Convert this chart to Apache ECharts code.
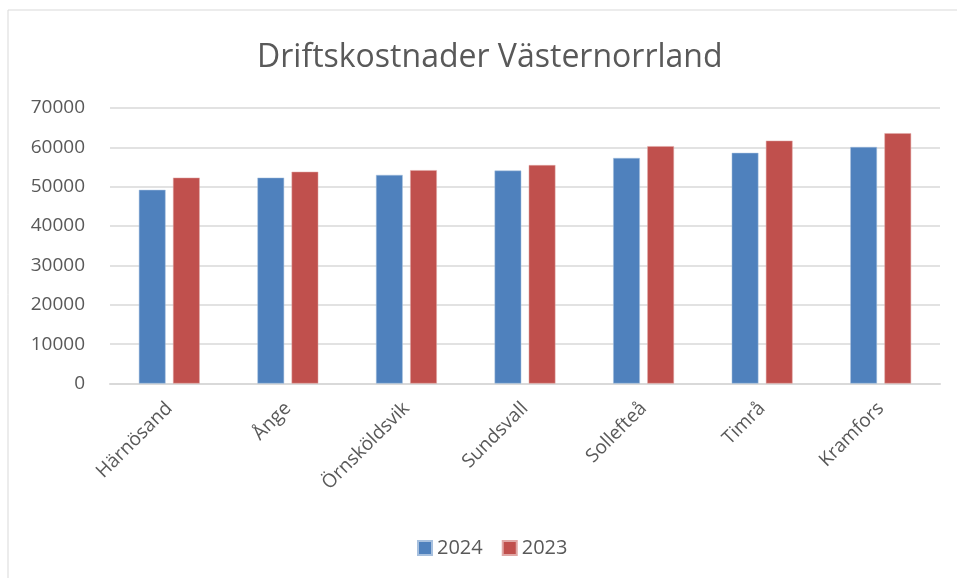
<!DOCTYPE html>
<html>
<head>
<meta charset="utf-8">
<script src="https://cdn.jsdelivr.net/npm/echarts@6/dist/echarts.min.js"></script>
<style>
  html, body { margin: 0; padding: 0; background: #fff; }
  #chart { width: 957px; height: 578px; }
</style>
</head>
<body>
<div id="chart"></div>
<script>
// data
const kommuner = ['Härnösand', 'Ånge', 'Örnsköldsvik', 'Sundsvall', 'Sollefteå', 'Timrå', 'Kramfors']
const kostnad2024 = [49200, 52300, 53000, 54100, 57300, 58600, 60100]
const kostnad2023 = [52300, 53800, 54200, 55500, 60300, 61700, 63600]

const textColor = '#595959'
const fontFam = '"Open Sans", "Noto Sans", sans-serif'

const chart = echarts.init(document.getElementById('chart'))

chart.setOption({
  animation: false,
  backgroundColor: '#fff',
  graphic: [{
    type: 'rect',
    shape: { x: 8, y: 10, width: 960, height: 600 },
    style: { fill: 'none', stroke: '#d9d9d9', lineWidth: 1 },
    silent: true
  }],
  title: {
    text: 'Driftskostnader Västernorrland',
    left: 252,
    top: 37,
    textStyle: { fontFamily: fontFam, fontSize: 32, fontWeight: 'normal', color: textColor }
  },
  legend: {
    bottom: 15,
    left: 412,
    itemWidth: 14,
    itemHeight: 14,
    itemGap: 19,
    icon: 'rect',
    textStyle: { fontFamily: fontFam, fontSize: 20, color: textColor }
  },
  grid: { left: 110, right: 17, top: 108, bottom: 194.5 },
  xAxis: {
    type: 'category',
    data: kommuner,
    axisLine: { lineStyle: { color: '#d9d9d9', width: 2 } },
    axisTick: { show: false },
    axisLabel: {
      rotate: 45,
      margin: 22,
      interval: 0,
      fontFamily: fontFam,
      fontSize: 19,
      color: textColor
    }
  },
  yAxis: {
    type: 'value',
    min: 0,
    max: 70000,
    interval: 10000,
    axisLine: { show: false },
    axisTick: { show: false },
    splitLine: { lineStyle: { color: '#d9d9d9', width: 1.5 } },
    axisLabel: {
      margin: 25,
      fontFamily: fontFam,
      fontSize: 19,
      color: textColor,
      formatter: v => String(v)
    }
  },
  series: [
    {
      name: '2024',
      type: 'bar',
      data: kostnad2024,
      barWidth: '22.5%',
      barGap: '28%',
      itemStyle: { color: '#4f81bd', borderColor: '#a7c0de', borderWidth: 0.5 }
    },
    {
      name: '2023',
      type: 'bar',
      data: kostnad2023,
      barWidth: '22.5%',
      itemStyle: { color: '#c0504d', borderColor: '#e0a8a6', borderWidth: 0.5 }
    }
  ]
})
</script>
</body>
</html>
